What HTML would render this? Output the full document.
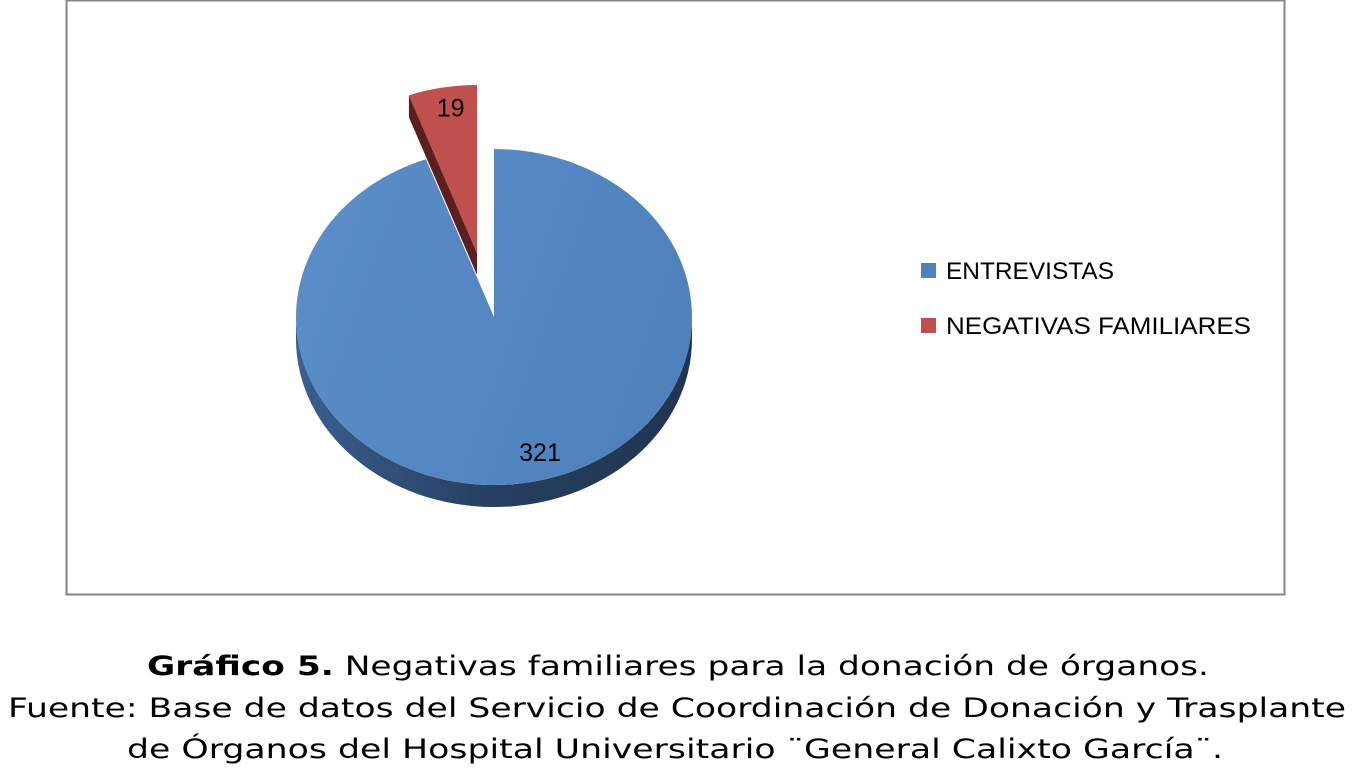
<!DOCTYPE html>
<html><head><meta charset="utf-8"><style>
html,body{margin:0;padding:0;background:#fff;width:1356px;height:769px;overflow:hidden}
svg{display:block}
</style></head><body>
<svg id="chart" width="1356" height="769" viewBox="0 0 1356 769" xmlns="http://www.w3.org/2000/svg">
<defs>
<linearGradient id="gBlue" x1="0" y1="0" x2="1" y2="0.3"><stop offset="0" stop-color="#5b8fca"/><stop offset="1" stop-color="#4f81bd"/></linearGradient>
<linearGradient id="gSide" x1="0" y1="0" x2="1" y2="0"><stop offset="0" stop-color="#3a5f8e"/><stop offset="0.5" stop-color="#263f60"/><stop offset="1" stop-color="#1f3550"/></linearGradient>
</defs>
<rect x="66.5" y="0.5" width="1218" height="594" fill="#fff" stroke="#868686" stroke-width="2"/>
<g id="pie"></g>
<g font-family="'Liberation Sans',sans-serif" font-size="24" fill="#000">
<rect x="921" y="263" width="15" height="15" fill="#4f81bd"/>
<text x="946" y="279" textLength="168" lengthAdjust="spacingAndGlyphs">ENTREVISTAS</text>
<rect x="921" y="318" width="15" height="15" fill="#c0504d"/>
<text x="946" y="334" textLength="305" lengthAdjust="spacingAndGlyphs">NEGATIVAS FAMILIARES</text>
</g>
<g font-family="'DejaVu Sans',sans-serif" font-size="27" fill="#000" text-anchor="middle">
<text x="678" y="675" textLength="1062" lengthAdjust="spacingAndGlyphs"><tspan font-weight="bold">Gráfico 5.</tspan> Negativas familiares para la donación de órganos.</text>
<text x="677" y="717" textLength="1338" lengthAdjust="spacingAndGlyphs">Fuente: Base de datos del Servicio de Coordinación de Donación y Trasplante</text>
<text x="675" y="758" textLength="1096" lengthAdjust="spacingAndGlyphs">de Órganos del Hospital Universitario ¨General Calixto García¨.</text>
</g>
</svg>
<script>
const categories = ["ENTREVISTAS", "NEGATIVAS FAMILIARES"];
const values = [321, 19];
const valueLabels = ["321", "19"];

const NS = "http://www.w3.org/2000/svg";
const pie = document.getElementById("pie");
const cx = 494, cy = 317, rx = 198, ry = 168, depth = 22;
const colors = ["url(#gBlue)", "#c0504d"];
const sideColors = ["url(#gSide)", "#5a1f1e"];
const total = values.reduce((a, b) => a + b, 0);
function pt(a, ox, oy) { return [cx + ox + rx * Math.sin(a), cy + oy - ry * Math.cos(a)]; }
function arcPath(a0, a1, ox, oy) {
  const p1 = pt(a1, ox, oy);
  const large = (a1 - a0) > Math.PI ? 1 : 0;
  return `A${rx},${ry} 0 ${large} 1 ${p1[0]},${p1[1]}`;
}
let start = 0;
const slices = values.map((v) => { const a0 = start; const a1 = start + v / total * 2 * Math.PI; start = a1; return [a0, a1]; });
slices.forEach((s, i) => {
  const [a0, a1] = s;
  const mid = (a0 + a1) / 2;
  const ox = i === 1 ? -17 : 0, oy = i === 1 ? -64 : 0;
  if (i === 0) {
    const b0 = Math.max(a0, Math.PI / 2), b1 = Math.min(a1, 3 * Math.PI / 2);
    const p0 = pt(b0, ox, oy), p1 = pt(b1, ox, oy);
    const side = document.createElementNS(NS, "path");
    side.setAttribute("d", `M${p0[0]},${p0[1]} ${arcPath(b0, b1, ox, oy)} L${p1[0]},${p1[1] + depth} A${rx},${ry} 0 0 0 ${p0[0]},${p0[1] + depth} Z`);
    side.setAttribute("fill", sideColors[i]);
    
    
    pie.appendChild(side);
  } else {
    const p0 = pt(a0, ox, oy);
    const c = [cx + ox, cy + oy];
    const side = document.createElementNS(NS, "path");
    side.setAttribute("d", `M${c[0]},${c[1]} L${p0[0]},${p0[1]} L${p0[0]},${p0[1] + depth} L${c[0]},${c[1] + depth} Z`);
    side.setAttribute("fill", sideColors[i]);
    
    
    pie.appendChild(side);
  }
  const p0 = pt(a0, ox, oy), c = [cx + ox, cy + oy];
  const top = document.createElementNS(NS, "path");
  top.setAttribute("d", `M${c[0]},${c[1]} L${p0[0]},${p0[1]} ${arcPath(a0, a1, ox, oy)} Z`);
  top.setAttribute("fill", colors[i]);
  
  
  pie.appendChild(top);
  const lab = document.createElementNS(NS, "text");
  const lr = 0.82;
  const lx = cx + ox + rx * lr * Math.sin(mid);
  const ly = cy + oy - ry * lr * Math.cos(mid);
  lab.setAttribute("x", i === 0 ? 540 : lx + 2);
  lab.setAttribute("y", i === 0 ? 461 : ly - 1);
  lab.setAttribute("text-anchor", "middle");
  lab.setAttribute("font-family", "'Liberation Sans',sans-serif");
  lab.setAttribute("font-size", "25");
  lab.textContent = valueLabels[i];
  
  
  pie.appendChild(lab);
});
</script>
</body></html>
